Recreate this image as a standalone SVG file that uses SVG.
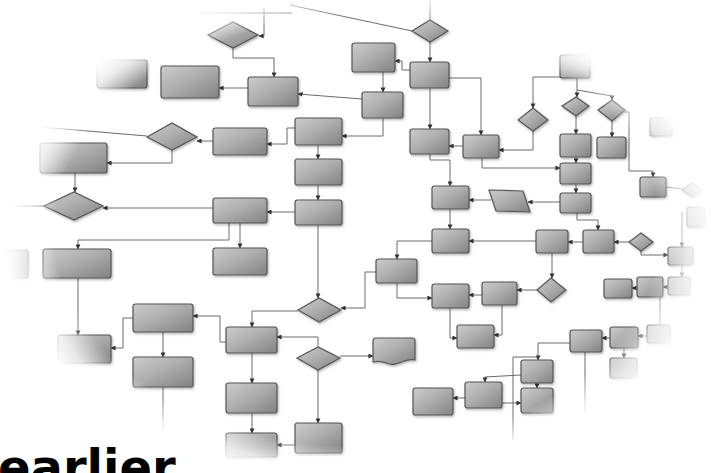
<svg xmlns="http://www.w3.org/2000/svg" width="711" height="473" viewBox="0 0 711 473">
<defs>
<style>
.n rect,.n polygon,.n path{fill:url(#g);stroke:#555;stroke-width:1.2}
.n rect{rx:2.5;ry:2.5}
.c path{fill:none;stroke:#6a6a6a;stroke-width:1;marker-end:url(#ah)}
.c path.na{marker-end:none}
.t{font-family:"DejaVu Sans",Verdana,sans-serif;font-weight:bold;font-size:48px;fill:#000}
</style>
<linearGradient id="g" x1="0" y1="0" x2="1" y2="1">
<stop offset="0" stop-color="#cccccc"/>
<stop offset="0.45" stop-color="#afafaf"/>
<stop offset="1" stop-color="#828282"/>
</linearGradient>
<radialGradient id="vig" cx="0.5" cy="0.5" r="0.5">
<stop offset="0" stop-color="#fff" stop-opacity="0"/>
<stop offset="0.84" stop-color="#fff" stop-opacity="0"/>
<stop offset="0.92" stop-color="#fff" stop-opacity="0.75"/>
<stop offset="0.98" stop-color="#fff" stop-opacity="1"/>
</radialGradient>
<radialGradient id="spot" cx="0.5" cy="0.5" r="0.5">
<stop offset="0" stop-color="#fff" stop-opacity="0.8"/>
<stop offset="1" stop-color="#fff" stop-opacity="0"/>
</radialGradient>
<filter id="sh" x="-20%" y="-20%" width="150%" height="160%">
<feDropShadow dx="1" dy="1.5" stdDeviation="1" flood-color="#000" flood-opacity="0.3"/>
</filter>
<marker id="ah" viewBox="0 0 6 6" refX="5.5" refY="3" markerWidth="5" markerHeight="5" markerUnits="userSpaceOnUse" orient="auto">
<path d="M0,0 L6,3 L0,6 Z" fill="#333"/>
</marker>
</defs>
<rect width="711" height="473" fill="#fff"/>
<g id="connectors" class="c">
<path d="M264,8 V36 H259"/>
<path d="M233,48 V58 H274 V77"/>
<path d="M248,88 H219"/>
<path d="M362,99 L298,94"/>
<path d="M383,118 V136 H342"/>
<path d="M295,128 H287 V144 H267"/>
<path d="M213,141 H197"/>
<path class="na" d="M147,136 L40,127"/>
<path d="M172,150 V163 H107"/>
<path d="M75,173 V192"/>
<path class="na" d="M44,206 H10"/>
<path d="M213,208 H103"/>
<path d="M383,72 V92"/>
<path d="M410,70 H402 V61 H395"/>
<path d="M430,42 V62"/>
<path class="na" d="M430,20 V0"/>
<path class="na" d="M290,5 L412,31"/>
<path class="na" d="M200,13 H292"/>
<path d="M318,145 V159"/>
<path d="M318,185 V200"/>
<path d="M295,212 H267"/>
<path d="M229,223 V240 H78 V249"/>
<path d="M240,223 V248"/>
<path d="M78,278 V335"/>
<path d="M133,318 H123 V348 H111"/>
<path d="M163,332 V357"/>
<path class="na" d="M163,387 V430"/>
<path d="M226,342 H220 V316 H193"/>
<path d="M318,225 V298"/>
<path d="M298,311 H252 V327"/>
<path d="M376,272 H365 V308 H341"/>
<path d="M318,347 V337 H277"/>
<path d="M340,356 H373"/>
<path d="M252,353 V383"/>
<path d="M252,413 V433"/>
<path d="M318,370 V423"/>
<path d="M295,445 H277"/>
<path d="M430,88 V129"/>
<path d="M449,78 H481 V135"/>
<path d="M463,146 H449"/>
<path d="M533,131 V150 H499"/>
<path d="M577,78 V77 H533 V108"/>
<path d="M577,78 V97"/>
<path d="M577,90 L612,96 V100"/>
<path d="M576,116 V134"/>
<path d="M612,121 V137"/>
<path d="M625,112 H629 V171 H653 V177"/>
<path class="na" d="M666,187 L690,190"/>
<path d="M576,157 V163"/>
<path d="M482,158 V168 H560"/>
<path d="M576,184 V193"/>
<path d="M560,202 H528"/>
<path d="M491,200 H469"/>
<path d="M430,154 V160 H450 V186"/>
<path d="M450,209 V229"/>
<path d="M577,213 V220 H598 V230"/>
<path d="M629,242 H614"/>
<path d="M583,242 H568"/>
<path d="M536,241 H469"/>
<path d="M432,241 H397 V259"/>
<path d="M397,283 V298 H432"/>
<path d="M482,295 H469"/>
<path d="M537,290 H517"/>
<path d="M552,253 V278"/>
<path d="M450,308 V338 H457"/>
<path d="M502,305 V335 H494"/>
<path d="M641,251 V255 H668"/>
<path d="M682,212 V247"/>
<path d="M682,265 V277"/>
<path d="M668,287 H663"/>
<path d="M637,288 H632"/>
<path class="na" d="M660,297 V327"/>
<path d="M647,336 H638"/>
<path d="M610,338 H602"/>
<path d="M624,348 V358"/>
<path d="M570,343 H538 V360"/>
<path d="M537,383 V388"/>
<path d="M465,398 H453"/>
<path d="M521,375 L485,377 V382"/>
<path d="M502,403 H521"/>
<path class="na" d="M513,440 V357 H538"/>
<path class="na" d="M585,352 V412"/>
</g>
<g filter="url(#sh)">
<g id="nA" class="n"><polygon points="208,35 233,22 258,35 233,48"/></g>
<g id="nB" class="n"><rect x="248" y="77" width="50" height="29"/></g>
<g id="nC" class="n"><rect x="161" y="66" width="58" height="32"/></g>
<g id="nCf" class="n"><rect x="97" y="60" width="50" height="28"/></g>
<g id="nD" class="n"><rect x="362" y="92" width="41" height="26"/></g>
<g id="nE" class="n"><rect x="295" y="118" width="47" height="27"/></g>
<g id="nF" class="n"><rect x="213" y="128" width="54" height="27"/></g>
<g id="nG" class="n"><polygon points="147,137 172,123 197,137 172,150"/></g>
<g id="nH" class="n"><rect x="40" y="143" width="67" height="30"/></g>
<g id="nI" class="n"><polygon points="44,206 74,192 103,206 74,220"/></g>
<g id="nJ" class="n"><rect x="213" y="198" width="54" height="25"/></g>
<g id="nK" class="n"><rect x="295" y="200" width="47" height="25"/></g>
<g id="nL" class="n"><rect x="295" y="159" width="47" height="26"/></g>
<g id="nMf" class="n"><rect x="-20" y="250" width="48" height="28"/></g>
<g id="nM" class="n"><rect x="43" y="249" width="68" height="29"/></g>
<g id="nN" class="n"><rect x="213" y="248" width="54" height="27"/></g>
<g id="nO" class="n"><rect x="58" y="335" width="53" height="28"/></g>
<g id="nP" class="n"><rect x="133" y="304" width="60" height="28"/></g>
<g id="nQ" class="n"><rect x="133" y="357" width="60" height="30"/></g>
<g id="nR" class="n"><rect x="226" y="327" width="51" height="26"/></g>
<g id="nS" class="n"><polygon points="298,310 319,298 341,310 319,322"/></g>
<g id="nT" class="n"><polygon points="297,358 318,347 340,358 318,370"/></g>
<g id="nU" class="n"><rect x="226" y="383" width="51" height="30"/></g>
<g id="nV" class="n"><rect x="226" y="433" width="51" height="24"/></g>
<g id="nW" class="n"><rect x="295" y="423" width="47" height="30"/></g>
<g id="nX" class="n"><polygon points="412,31 430,20 448,31 430,42"/></g>
<g id="nY" class="n"><rect x="410" y="62" width="39" height="26"/></g>
<g id="nZ" class="n"><rect x="352" y="43" width="43" height="29"/></g>
<g id="nAA" class="n"><rect x="410" y="129" width="39" height="25"/></g>
<g id="nAB" class="n"><rect x="463" y="135" width="36" height="23"/></g>
<g id="nAC" class="n"><polygon points="518,120 533,108 548,120 533,131"/></g>
<g id="nTop" class="n"><rect x="560" y="55" width="30" height="23"/></g>
<g id="nAD" class="n"><polygon points="562,106 576,97 589,106 576,116"/></g>
<g id="nAE" class="n"><polygon points="598,110 612,100 625,110 612,121"/></g>
<g id="nAF" class="n"><rect x="560" y="134" width="31" height="23"/></g>
<g id="nAG" class="n"><rect x="597" y="137" width="29" height="21"/></g>
<g id="nBlob" class="n"><rect x="650" y="118" width="22" height="18"/></g>
<g id="nAH" class="n"><rect x="640" y="177" width="26" height="20"/></g>
<g id="nRD" class="n"><polygon points="682,190 692,183 702,190 692,197"/></g>
<g id="nRB" class="n"><rect x="687" y="207" width="18" height="20"/></g>
<g id="nAI" class="n"><rect x="560" y="163" width="31" height="21"/></g>
<g id="nAJ" class="n"><rect x="560" y="193" width="31" height="20"/></g>
<g id="nAK" class="n"><polygon points="489,190 523,191 530,212 496,211"/></g>
<g id="nAL" class="n"><rect x="432" y="186" width="37" height="23"/></g>
<g id="nAM" class="n"><rect x="432" y="229" width="37" height="24"/></g>
<g id="nAO" class="n"><rect x="536" y="230" width="32" height="23"/></g>
<g id="nAN" class="n"><rect x="583" y="230" width="31" height="23"/></g>
<g id="nAP" class="n"><polygon points="629,242 641,233 653,242 641,251"/></g>
<g id="nAQ" class="n"><rect x="668" y="247" width="25" height="18"/></g>
<g id="nAR" class="n"><rect x="668" y="277" width="22" height="18"/></g>
<g id="nAS" class="n"><rect x="637" y="277" width="26" height="20"/></g>
<g id="nAT" class="n"><rect x="604" y="279" width="28" height="19"/></g>
<g id="nAU" class="n"><rect x="376" y="259" width="41" height="24"/></g>
<g id="nAV" class="n"><rect x="432" y="284" width="37" height="24"/></g>
<g id="nAW" class="n"><rect x="482" y="282" width="35" height="23"/></g>
<g id="nAX" class="n"><polygon points="537,290 551,278 566,290 551,302"/></g>
<g id="nAY" class="n"><rect x="457" y="325" width="37" height="23"/></g>
<g id="nAZ" class="n"><path d="M373,341 Q373,338 376,338 H412 Q415,338 415,341 V360 C405,357 398,368 386,363 C381,361 377,361 373,362 Z"/></g>
<g id="nBA" class="n"><rect x="570" y="330" width="32" height="22"/></g>
<g id="nBB" class="n"><rect x="610" y="327" width="28" height="21"/></g>
<g id="nBC" class="n"><rect x="647" y="325" width="23" height="18"/></g>
<g id="nBD" class="n"><rect x="610" y="358" width="27" height="20"/></g>
<g id="nBE" class="n"><rect x="521" y="360" width="32" height="23"/></g>
<g id="nBF" class="n"><rect x="521" y="388" width="32" height="25"/></g>
<g id="nBG" class="n"><rect x="465" y="382" width="37" height="26"/></g>
<g id="nBH" class="n"><rect x="413" y="388" width="40" height="27"/></g>
</g>
<rect x="-3" y="-23" width="720" height="510" fill="url(#vig)"/>
<ellipse cx="590" cy="55" rx="45" ry="30" fill="url(#spot)"/>
<text class="t" x="-2" y="484">earlier</text>
</svg>
